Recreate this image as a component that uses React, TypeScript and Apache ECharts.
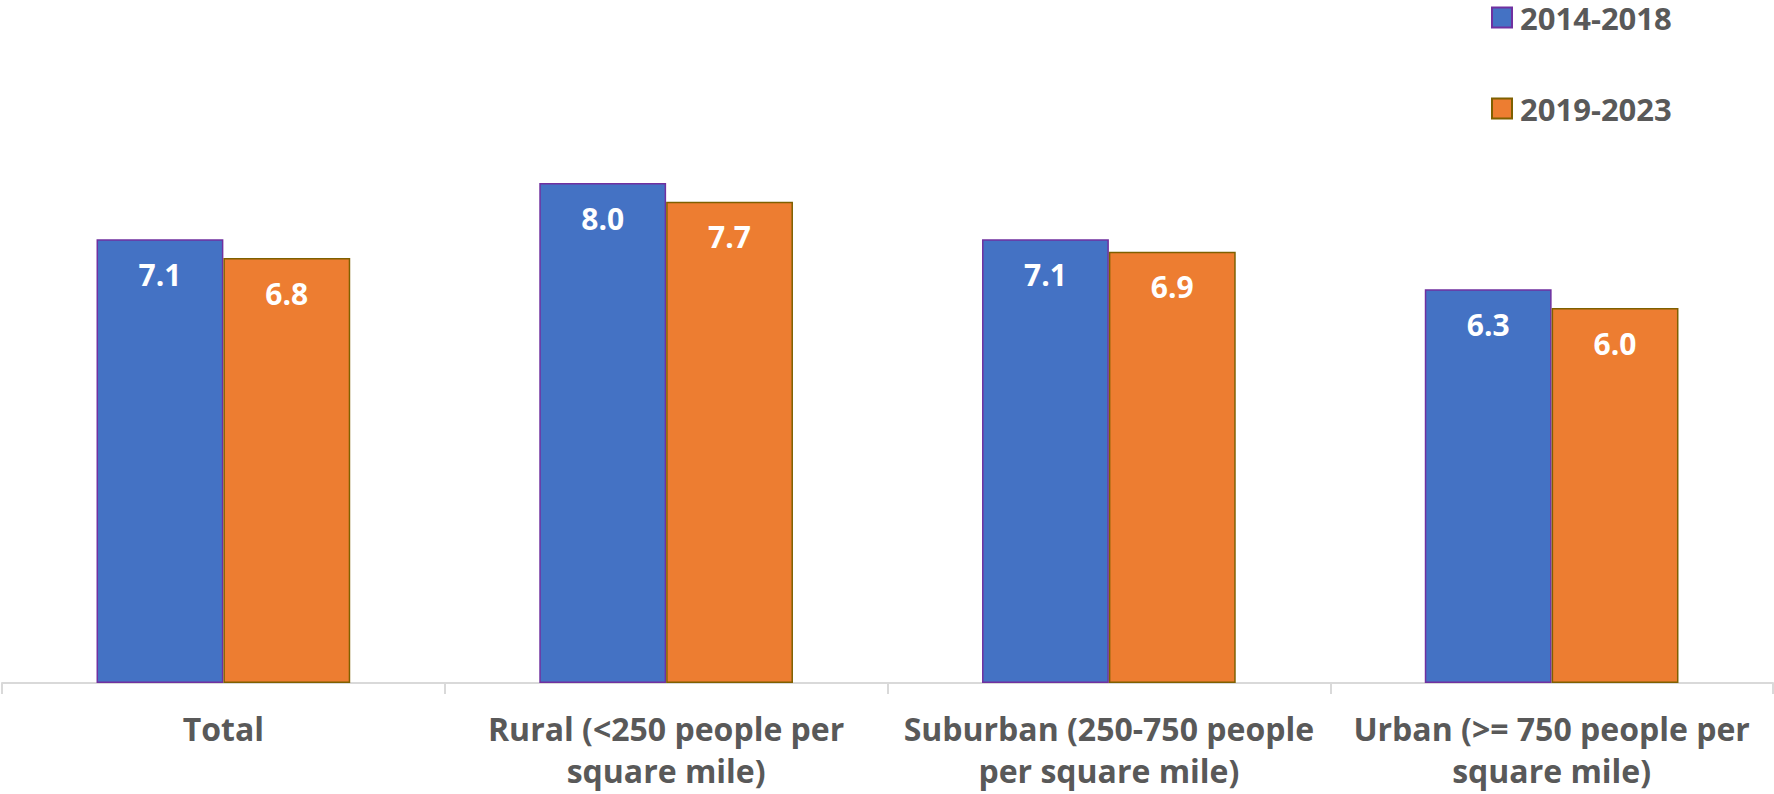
import React, { useEffect, useRef } from "react";
import * as echarts from "echarts";

const categories = [
  "Total",
  "Rural (<250 people per\nsquare mile)",
  "Suburban (250-750 people\nper square mile)",
  "Urban (>= 750 people per\nsquare mile)",
];
const series2014 = [7.1, 8.0, 7.1, 6.3];
const series2019 = [6.8, 7.7, 6.9, 6.0];
const seriesNames = ["2014-2018", "2019-2023"];

export default function App() {
  const ref = useRef<HTMLDivElement>(null);
  useEffect(() => {
    if (!ref.current) return;
    const chart = echarts.init(ref.current, null, { renderer: "svg" });
    const font = "'Open Sans', 'Noto Sans', sans-serif";
    const label = {
      show: true,
      position: "insideTop",
      distance: 20,
      color: "#ffffff",
      fontWeight: "bold",
      fontSize: 30,
      fontFamily: font,
      formatter: (p: any) => p.value.toFixed(1),
    };
    chart.setOption({
      animation: false,
      legend: {
        orient: "vertical",
        left: 1491,
        top: 2,
        padding: 0,
        icon: "rect",
        itemWidth: 20,
        itemHeight: 20,
        itemGap: 60,
        textStyle: {
          fontSize: 31,
          lineHeight: 31,
          fontWeight: "bold",
          color: "#595959",
          fontFamily: font,
          padding: [0, 0, 0, 3],
        },
        data: seriesNames,
      },
      grid: { left: 2, right: 1, top: 58, bottom: 111, containLabel: false },
      xAxis: {
        type: "category",
        data: categories,
        axisLine: { lineStyle: { color: "#d9d9d9", width: 2 } },
        axisTick: { show: true, length: 11, lineStyle: { color: "#d9d9d9", width: 2 } },
        axisLabel: {
          interval: 0,
          margin: 24,
          fontSize: 32,
          lineHeight: 42,
          fontWeight: "bold",
          color: "#595959",
          fontFamily: font,
        },
      },
      yAxis: {
        type: "value",
        min: 0,
        max: 10,
        show: false,
        splitLine: { show: false },
      },
      series: [
        {
          name: seriesNames[0],
          type: "bar",
          data: series2014,
          barGap: "0%",
          barCategoryGap: "42.7%",
          itemStyle: { color: "#4472C4", borderColor: "#7030A0", borderWidth: 1.5 },
          label,
        },
        {
          name: seriesNames[1],
          type: "bar",
          data: series2019,
          barGap: "0%",
          barCategoryGap: "42.7%",
          itemStyle: { color: "#ED7D31", borderColor: "#7F6000", borderWidth: 1.5 },
          label,
        },
      ],
    });
    return () => chart.dispose();
  }, []);
  return (
    <div
      ref={ref}
      style={{ position: "fixed", left: 0, top: 0, width: 1774, height: 794, background: "#fff" }}
    />
  );
}
